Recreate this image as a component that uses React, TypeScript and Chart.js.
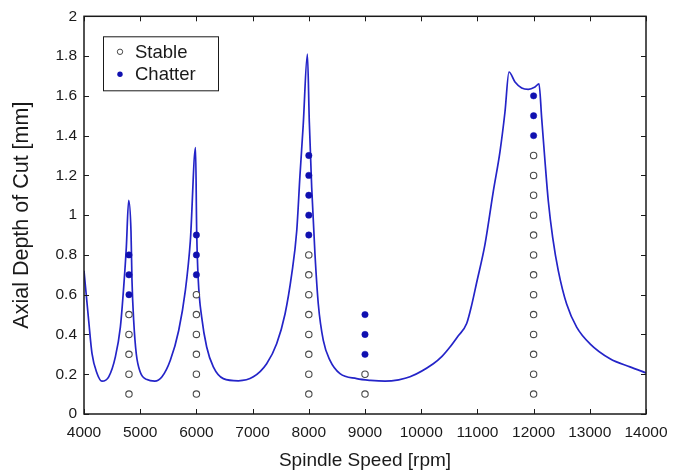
import React, { useEffect, useRef } from 'react';
import { Chart, registerables } from 'chart.js';

Chart.register(...registerables);

// Stability lobe boundary (spindle speed [rpm], axial depth [mm])
const curveSpeed = [
  4000, 4083, 4142, 4231, 4320, 4440, 4558, 4647, 4706, 4753, 4795,
  4836, 4854, 4884, 4930, 5002, 5121, 5260, 5388, 5536, 5685, 5803, 5892, 5985,
  6005, 6034, 6094, 6183, 6301, 6479, 6746, 7013, 7250, 7428, 7577, 7696, 7785, 7843, 7900, 7975,
  8009, 8052, 8110, 8169, 8258, 8377, 8555, 8852, 9100, 9356, 9600, 9801, 10215, 10370, 10512, 10650, 10809, 10900, 10986,
  11135, 11283, 11402, 11491, 11562, 11669, 11788, 11906, 12025, 12096,
  12144, 12203, 12262, 12340, 12440, 12588, 12766, 13004, 13360, 13715, 14000,
];
const curveDepth = [
  0.72, 0.47, 0.305, 0.205, 0.165, 0.187, 0.287, 0.437, 0.637, 0.837, 1.075,
  0.92, 0.67, 0.47, 0.303, 0.21, 0.173, 0.165, 0.187, 0.27, 0.42, 0.62, 0.87, 1.34,
  0.92, 0.67, 0.487, 0.337, 0.237, 0.178, 0.167, 0.187, 0.253, 0.353, 0.503, 0.703, 0.92, 1.2, 1.45, 1.81,
  1.47, 1.137, 0.803, 0.553, 0.37, 0.27, 0.203, 0.178, 0.169, 0.165, 0.172, 0.187, 0.253, 0.29, 0.337, 0.39, 0.455, 0.55, 0.66,
  0.853, 1.12, 1.32, 1.52, 1.72, 1.67, 1.64, 1.633, 1.645, 1.66,
  1.487, 1.27, 1.07, 0.887, 0.72, 0.553, 0.437, 0.353, 0.278, 0.237, 0.207,
];

// Experimental cuts
const stableSpeed = [
  4800, 4800, 4800, 4800, 4800,
  6000, 6000, 6000, 6000, 6000, 6000,
  8000, 8000, 8000, 8000, 8000, 8000, 8000, 8000,
  9000, 9000,
  12000, 12000, 12000, 12000, 12000, 12000, 12000, 12000, 12000, 12000, 12000, 12000, 12000,
];
const stableDepth = [
  0.1, 0.2, 0.3, 0.4, 0.5,
  0.1, 0.2, 0.3, 0.4, 0.5, 0.6,
  0.1, 0.2, 0.3, 0.4, 0.5, 0.6, 0.7, 0.8,
  0.1, 0.2,
  0.1, 0.2, 0.3, 0.4, 0.5, 0.6, 0.7, 0.8, 0.9, 1.0, 1.1, 1.2, 1.3,
];
const chatterSpeed = [
  4800, 4800, 4800,
  6000, 6000, 6000,
  8000, 8000, 8000, 8000, 8000,
  9000, 9000, 9000,
  12000, 12000, 12000,
];
const chatterDepth = [
  0.6, 0.7, 0.8,
  0.7, 0.8, 0.9,
  0.9, 1.0, 1.1, 1.2, 1.3,
  0.3, 0.4, 0.5,
  1.4, 1.5, 1.6,
];

const legendLabels = ['Stable', 'Chatter'];
const xLimits = [4000, 14000];
const xStep = 1000;
const yLimits = [0, 2];
const yStep = 0.2;

const FONT = '"Liberation Sans", Arial, Helvetica, sans-serif';
const INK = '#1a1a1a';
const LINE_BLUE = '#2424c8';
const DOT_BLUE = '#1010b0';
const STABLE_EDGE = '#4a4a4a';

const toPoints = (xs: number[], ys: number[]) => xs.map((x, i) => ({ x, y: ys[i] }));

const frameAndLegend = {
  id: 'frameAndLegend',
  afterDatasetsDraw(chart: any) {
    const { ctx, chartArea } = chart;
    const { left, right, top, bottom } = chartArea;
    const xs = chart.scales.x;
    const ys = chart.scales.y;
    const tl = 5;
    ctx.save();
    ctx.strokeStyle = INK;
    ctx.lineWidth = 1;
    ctx.beginPath();
    xs.ticks.forEach((t: any) => {
      const px = Math.round(xs.getPixelForValue(t.value)) + 0.5;
      ctx.moveTo(px, bottom);
      ctx.lineTo(px, bottom - tl);
      ctx.moveTo(px, top);
      ctx.lineTo(px, top + tl);
    });
    ys.ticks.forEach((t: any) => {
      const py = Math.round(ys.getPixelForValue(t.value)) + 0.5;
      ctx.moveTo(left, py);
      ctx.lineTo(left + tl, py);
      ctx.moveTo(right, py);
      ctx.lineTo(right - tl, py);
    });
    ctx.stroke();
    ctx.lineWidth = 1.5;
    ctx.strokeRect(left, top, right - left, bottom - top);

    // legend box
    const lx = left + 19;
    const ly = top + 20;
    const lw = 115;
    const lh = 54;
    ctx.fillStyle = '#ffffff';
    ctx.fillRect(lx, ly, lw, lh);
    ctx.lineWidth = 1;
    ctx.strokeStyle = INK;
    ctx.strokeRect(lx + 0.5, ly + 0.5, lw, lh);
    const rows = [ly + 15.5, ly + 38];
    ctx.font = `18.5px ${FONT}`;
    ctx.textBaseline = 'middle';
    ctx.textAlign = 'left';
    rows.forEach((ry, i) => {
      ctx.beginPath();
      ctx.arc(lx + 17, ry, 2.7, 0, Math.PI * 2);
      if (i === 0) {
        ctx.fillStyle = '#ffffff';
        ctx.fill();
        ctx.strokeStyle = STABLE_EDGE;
        ctx.lineWidth = 1;
        ctx.stroke();
      } else {
        ctx.fillStyle = DOT_BLUE;
        ctx.fill();
      }
      ctx.fillStyle = INK;
      ctx.fillText(legendLabels[i], lx + 32, ry + 1);
    });
    ctx.restore();
  },
};

export default function App() {
  const ref = useRef<HTMLCanvasElement | null>(null);
  useEffect(() => {
    document.body.style.margin = '0';
    if (!ref.current) return;
    const chart = new Chart(ref.current, {
      type: 'scatter',
      data: {
        datasets: [
          {
            label: legendLabels[1],
            data: toPoints(chatterSpeed, chatterDepth),
            pointRadius: 3.2,
            pointBackgroundColor: DOT_BLUE,
            pointBorderColor: DOT_BLUE,
            pointBorderWidth: 0.5,
          },
          {
            label: legendLabels[0],
            data: toPoints(stableSpeed, stableDepth),
            pointRadius: 3.2,
            pointBackgroundColor: '#ffffff',
            pointBorderColor: STABLE_EDGE,
            pointBorderWidth: 1.1,
          },
          {
            label: 'Stability limit',
            data: toPoints(curveSpeed, curveDepth),
            showLine: true,
            pointRadius: 0,
            borderColor: LINE_BLUE,
            borderWidth: 1.7,
            cubicInterpolationMode: 'monotone',
          } as any,
        ],
      },
      options: {
        animation: false,
        responsive: false,
        maintainAspectRatio: false,
        layout: { padding: { top: 14, right: 34, left: 0, bottom: 0 } },
        plugins: { legend: { display: false }, tooltip: { enabled: false } },
        scales: {
          x: {
            type: 'linear',
            min: xLimits[0],
            max: xLimits[1],
            grid: { display: false, drawTicks: false },
            border: { display: false },
            ticks: {
              stepSize: xStep,
              padding: 9,
              color: INK,
              font: { family: FONT, size: 15.5 },
              maxRotation: 0,
              autoSkip: false,
              callback: (v: any) => String(v),
            },
            title: {
              display: true,
              text: 'Spindle Speed [rpm]',
              color: INK,
              font: { family: FONT, size: 19 },
              padding: { top: 0, bottom: 4 },
            },
            afterFit: (s: any) => {
              s.height = 62;
            },
          },
          y: {
            type: 'linear',
            min: yLimits[0],
            max: yLimits[1],
            grid: { display: false, drawTicks: false },
            border: { display: false },
            ticks: {
              stepSize: yStep,
              padding: 7,
              color: INK,
              font: { family: FONT, size: 15.5 },
              autoSkip: false,
              callback: (v: any) => String(Math.round(Number(v) * 10) / 10),
            },
            title: {
              display: true,
              text: 'Axial Depth of Cut [mm]',
              color: INK,
              font: { family: FONT, size: 21.5 },
              padding: { top: 9, bottom: 0 },
            },
            afterFit: (s: any) => {
              s.width = 84;
            },
          },
        },
      },
      plugins: [frameAndLegend],
    });
    return () => chart.destroy();
  }, []);
  return (
    <div style={{ width: 680, height: 476, background: '#fff' }}>
      <canvas ref={ref} width={680} height={476} style={{ display: 'block' }} />
    </div>
  );
}
